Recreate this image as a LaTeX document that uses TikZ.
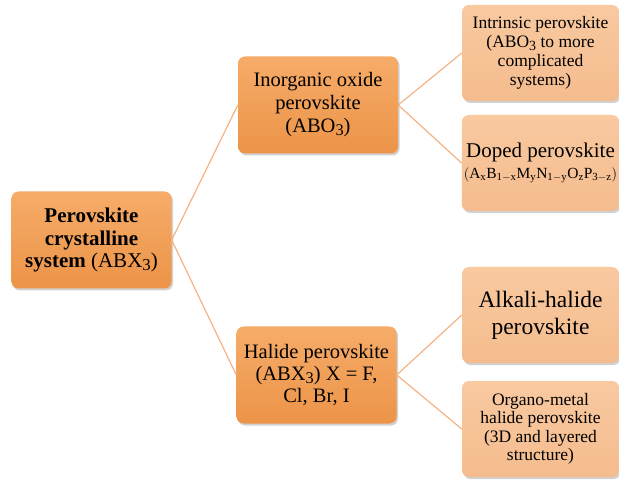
\documentclass[tikz,border=0pt]{standalone}
\usepackage{amsmath}
\usepackage{fontspec}
\setmainfont{Liberation Serif}
\usepackage{tikz}
\usetikzlibrary{shadows}

\definecolor{darkbox}{RGB}{236,148,72}
\definecolor{darktop}{RGB}{246,172,105}
\definecolor{lightbox}{RGB}{244,188,142}
\definecolor{lighttop}{RGB}{249,201,160}
\definecolor{linkcol}{RGB}{246,178,130}
\newcommand{\lowthree}{\raisebox{-0.3ex}{\scalebox{0.8}{3}}}

\begin{document}
\begin{tikzpicture}[x=1pt,y=-1pt,
	box/.style={rectangle, rounded corners=7pt, align=center, inner sep=2pt,
		drop shadow={shadow xshift=1.5pt, shadow yshift=-2pt, opacity=0.3, fill=black!60}},
	mainbox/.style={box, top color=darktop, bottom color=darkbox, minimum width=160pt, minimum height=97pt},
	subbox/.style={box, top color=lighttop, bottom color=lightbox, minimum width=157pt, minimum height=96pt},
	link/.style={draw=linkcol, line width=1.2pt}]
	\useasboundingbox (0,0) rectangle (619,481);
	% first and second level
	\node[mainbox, font=\fontsize{21}{22.5}\selectfont] (root) at (91.5,240) {\textbf{Perovskite}\\\textbf{crystalline}\\\textbf{system} (ABX\lowthree)};
	\node[mainbox, font=\fontsize{20.5}{23}\selectfont] (oxide) at (318,105) {Inorganic oxide\\perovskite\\(ABO\lowthree)};
	\node[mainbox, font=\fontsize{20.5}{22}\selectfont] (halide) at (316.5,375) {Halide perovskite\\(ABX\lowthree) X = F,\\Cl, Br, I};
	% third level
	\node[subbox, font=\fontsize{17.5}{19}\selectfont] (intr) at (540.5,53) {Intrinsic perovskite\\(ABO\lowthree{} to more\\complicated\\systems)};
	\node[subbox, font=\fontsize{21}{22}\selectfont] (doped) at (540.5,163) {Doped perovskite\\[-1pt]{\fontsize{15.5}{17}\selectfont$(\mathrm{A_xB_{1-x}M_yN_{1-y}O_zP_{3-z}})$}};
	\node[subbox, font=\fontsize{23.5}{27}\selectfont] (alkali) at (540.5,315) {Alkali-halide\\perovskite};
	\node[subbox, font=\fontsize{17.5}{18.5}\selectfont] (organo) at (540.5,429) {Organo-metal\\halide perovskite\\(3D and layered\\structure)};
	% connectors
	\draw[link] (root.east) -- (oxide.west);
	\draw[link] (root.east) -- (halide.west);
	\draw[link] (oxide.east) -- (intr.west);
	\draw[link] (oxide.east) -- (doped.west);
	\draw[link] (halide.east) -- (alkali.west);
	\draw[link] (halide.east) -- (organo.west);
\end{tikzpicture}
\end{document}
